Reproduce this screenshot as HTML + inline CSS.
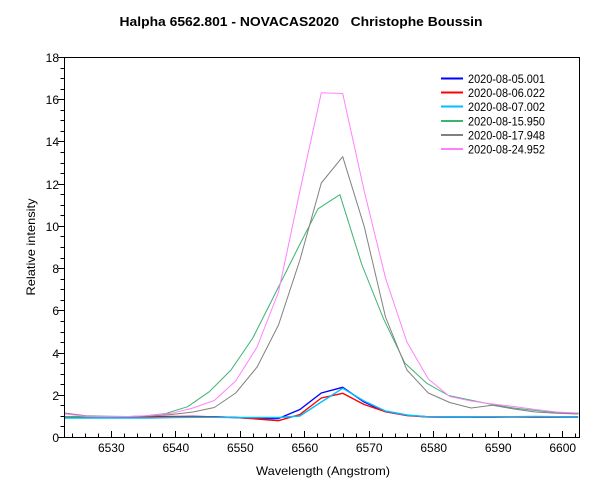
<!DOCTYPE html>
<html>
<head>
<meta charset="utf-8">
<style>
html,body{margin:0;padding:0;background:#fff;}
svg{display:block;}
text{font-family:"Liberation Sans",Arial,sans-serif;fill:#000;}
</style>
</head>
<body>
<svg width="600" height="500" viewBox="0 0 600 500" xmlns="http://www.w3.org/2000/svg">
<rect x="0" y="0" width="600" height="500" fill="#fff"/>
<text x="301" y="26" font-size="13" font-weight="bold" text-anchor="middle" textLength="363" lengthAdjust="spacingAndGlyphs" style="white-space:pre" xml:space="preserve">Halpha 6562.801 - NOVACAS2020   Christophe Boussin</text>

<defs><clipPath id="pc"><rect x="64.5" y="57.5" width="515" height="380"/></clipPath></defs>

<!-- series -->
<g clip-path="url(#pc)" fill="none" stroke-linejoin="round">
<polyline stroke="#0000ff" stroke-width="1.4" points="64.5,417.5 85.9,417.5 107.3,417.3 128.7,417 150.1,416.8 171.5,416.8 192.9,416.5 214.3,416.8 235.7,417.5 257.1,418.5 278.5,418.5 299.9,409.5 321.3,393 342.7,387.3 364.1,402 385.5,411.7 406.9,415.3 428.3,416.8 449.7,417 471.1,417 492.5,417 513.9,416.8 535.3,417 556.7,417 578.1,417"/>
<polyline stroke="#ff0000" stroke-width="1.4" points="64.5,417 85.9,417 107.3,417 128.7,417 150.1,416.8 171.5,416.5 192.9,416.5 214.3,416.8 235.7,417.5 257.1,419 278.5,420.7 299.9,414.5 321.3,398 342.7,393.3 364.1,404.5 385.5,411.7 406.9,415.5 428.3,417 449.7,417.3 471.1,417.3 492.5,417 513.9,417 535.3,417 556.7,417 578.1,417"/>
<polyline stroke="#00bfff" stroke-width="1.4" points="64.5,418 85.9,418 107.3,418 128.7,418 150.1,418 171.5,417.5 192.9,417.3 214.3,417.3 235.7,417.5 257.1,417.5 278.5,417.5 299.9,416 321.3,402 342.7,388.3 364.1,401 385.5,411 406.9,415 428.3,416.8 449.7,417 471.1,417 492.5,416.7 513.9,416.7 535.3,416.5 556.7,416.7 578.1,417"/>
<polyline stroke="#3cb371" stroke-width="1" points="64.5,416.5 78.9,416.5 100.6,417 122.4,416.8 144.1,416 165.8,413.5 187.6,406.7 209.3,391.7 231,370 252.8,338 274.5,295 296.2,251.5 318,208.8 339.9,194.7 361.6,264 383.3,318.3 405,363.3 426.8,383.3 448.5,395.5 470.2,400 492,404.5 513.7,408 535.4,410.5 557.2,412.5 578.9,413.3"/>
<polyline stroke="#808080" stroke-width="1" points="64.5,413 85.9,415.8 107.3,416.3 128.7,416.5 150.1,416 171.5,414.5 192.9,412 214.3,407.5 235.7,393 257.1,367 278.5,325 299.9,260 321.3,183 342.7,156.7 364.1,226 385.5,317 406.9,370 428.3,393 449.7,402.5 471.1,408 492.5,405.3 513.9,409 535.3,412 556.7,413.3 578.1,414"/>
<polyline stroke="#ff80ff" stroke-width="1" points="64.5,414 85.9,416.3 107.3,416.5 128.7,416.5 150.1,415.5 171.5,413.3 192.9,408 214.3,400.5 235.7,381 257.1,347 278.5,292 299.9,191 321.3,92.8 342.7,93.5 364.1,190.5 385.5,278 406.9,342 428.3,379 449.7,396.5 471.1,401 492.5,404 513.9,406.5 535.3,409.5 556.7,412 578.1,413"/>
</g>

<!-- plot box -->
<rect x="64.5" y="57.5" width="515" height="380" fill="none" stroke="#000" stroke-width="1"/>

<!-- y ticks -->
<path stroke="#000" stroke-width="1" fill="none" d="
M58,437.5H64.5 M60.5,426.5H64.5 M60.5,416.5H64.5 M60.5,405.5H64.5
M58,395.5H64.5 M60.5,384.5H64.5 M60.5,374.5H64.5 M60.5,363.5H64.5
M58,353.5H64.5 M60.5,342.5H64.5 M60.5,332.5H64.5 M60.5,321.5H64.5
M58,310.5H64.5 M60.5,300.5H64.5 M60.5,289.5H64.5 M60.5,279.5H64.5
M58,268.5H64.5 M60.5,258.5H64.5 M60.5,247.5H64.5 M60.5,236.5H64.5
M58,226.5H64.5 M60.5,215.5H64.5 M60.5,205.5H64.5 M60.5,194.5H64.5
M58,184.5H64.5 M60.5,173.5H64.5 M60.5,163.5H64.5 M60.5,152.5H64.5
M58,141.5H64.5 M60.5,131.5H64.5 M60.5,120.5H64.5 M60.5,110.5H64.5
M58,99.5H64.5 M60.5,89.5H64.5 M60.5,78.5H64.5 M60.5,68.5H64.5
M58,57.5H64.5"/>

<g font-size="12" text-anchor="end">
<text x="59" y="442">0</text>
<text x="59" y="400">2</text>
<text x="59" y="358">4</text>
<text x="59" y="315">6</text>
<text x="59" y="273">8</text>
<text x="59" y="231">10</text>
<text x="59" y="189">12</text>
<text x="59" y="146">14</text>
<text x="59" y="104">16</text>
<text x="59" y="62">18</text>
</g>

<!-- x ticks -->
<path stroke="#000" stroke-width="1" fill="none" d="
M72.5,437.5V433.5 M85.5,437.5V433.5 M98.5,437.5V433.5 M111.5,437.5V431
M124.5,437.5V433.5 M137.5,437.5V433.5 M150.5,437.5V433.5 M162.5,437.5V433.5 M175.5,437.5V431
M188.5,437.5V433.5 M201.5,437.5V433.5 M214.5,437.5V433.5 M227.5,437.5V433.5 M240.5,437.5V431
M253.5,437.5V433.5 M266.5,437.5V433.5 M279.5,437.5V433.5 M291.5,437.5V433.5 M304.5,437.5V431
M317.5,437.5V433.5 M330.5,437.5V433.5 M343.5,437.5V433.5 M356.5,437.5V433.5 M369.5,437.5V431
M382.5,437.5V433.5 M395.5,437.5V433.5 M407.5,437.5V433.5 M420.5,437.5V433.5 M433.5,437.5V431
M446.5,437.5V433.5 M459.5,437.5V433.5 M472.5,437.5V433.5 M485.5,437.5V433.5 M498.5,437.5V431
M511.5,437.5V433.5 M524.5,437.5V433.5 M536.5,437.5V433.5 M549.5,437.5V433.5 M562.5,437.5V431
M575.5,437.5V433.5"/>

<g font-size="12" text-anchor="middle">
<text x="111.3" y="452">6530</text>
<text x="175.8" y="452">6540</text>
<text x="240.3" y="452">6550</text>
<text x="304.8" y="452">6560</text>
<text x="369.2" y="452">6570</text>
<text x="433.7" y="452">6580</text>
<text x="498.2" y="452">6590</text>
<text x="562.7" y="452">6600</text>
</g>

<text x="323" y="475" font-size="12" text-anchor="middle" textLength="134" lengthAdjust="spacingAndGlyphs">Wavelength (Angstrom)</text>
<text transform="translate(35,247) rotate(-90)" font-size="12" text-anchor="middle" textLength="97" lengthAdjust="spacingAndGlyphs">Relative intensity</text>

<!-- legend -->
<g stroke-width="2">
<line x1="441" y1="78.5" x2="463" y2="78.5" stroke="#0000ff"/>
<line x1="441" y1="92.5" x2="463" y2="92.5" stroke="#ff0000"/>
<line x1="441" y1="106.5" x2="463" y2="106.5" stroke="#00bfff"/>
<line x1="441" y1="121" x2="463" y2="121" stroke="#3cb371"/>
<line x1="441" y1="135" x2="463" y2="135" stroke="#808080"/>
<line x1="441" y1="149" x2="463" y2="149" stroke="#ff80ff"/>
</g>
<g font-size="12">
<text x="468" y="83" textLength="77" lengthAdjust="spacingAndGlyphs">2020-08-05.001</text>
<text x="468" y="97" textLength="77" lengthAdjust="spacingAndGlyphs">2020-08-06.022</text>
<text x="468" y="111" textLength="77" lengthAdjust="spacingAndGlyphs">2020-08-07.002</text>
<text x="468" y="125.5" textLength="77" lengthAdjust="spacingAndGlyphs">2020-08-15.950</text>
<text x="468" y="139.5" textLength="77" lengthAdjust="spacingAndGlyphs">2020-08-17.948</text>
<text x="468" y="153.5" textLength="77" lengthAdjust="spacingAndGlyphs">2020-08-24.952</text>
</g>
</svg>
</body>
</html>
